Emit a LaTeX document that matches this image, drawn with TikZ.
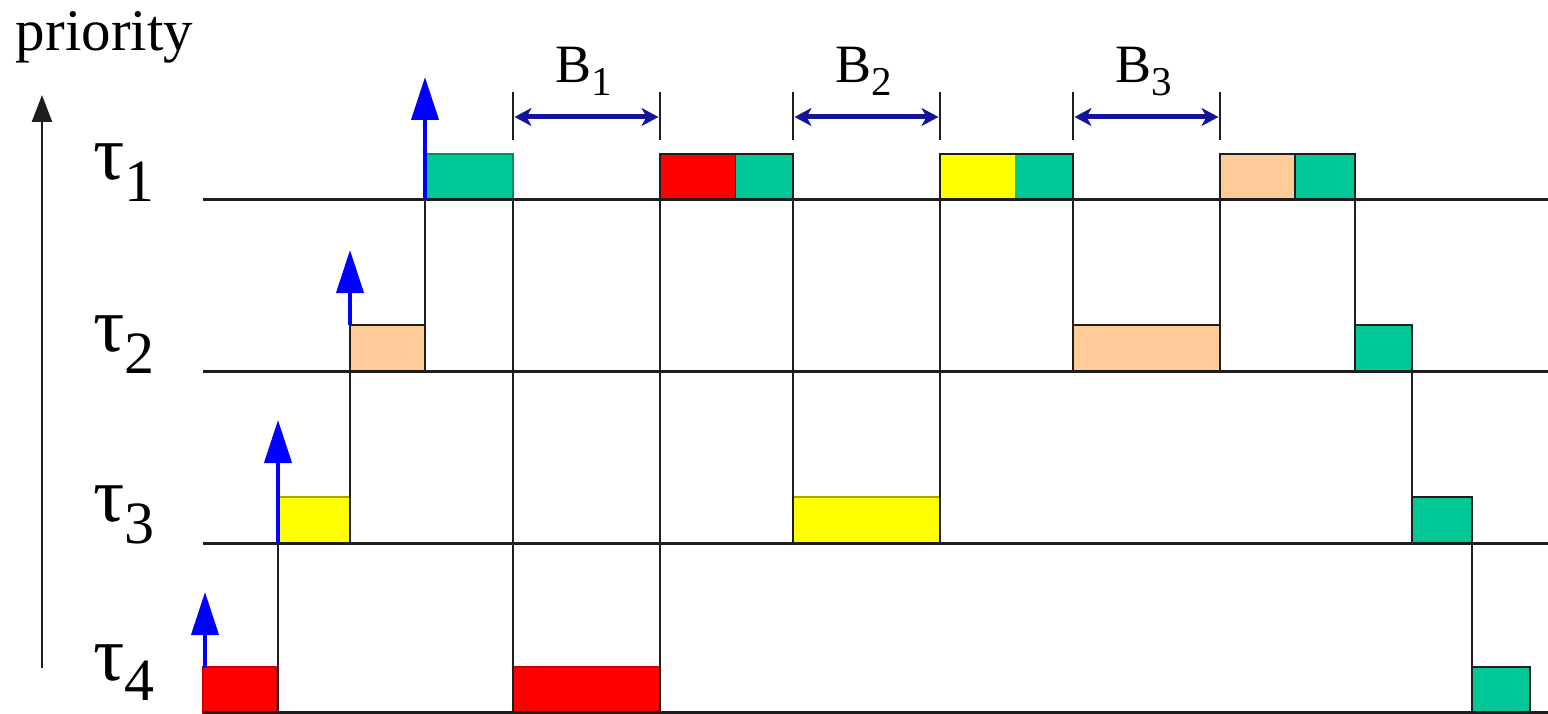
\documentclass[tikz,border=0pt]{standalone}
\usepackage{fontspec}
\setmainfont{Liberation Serif}
\usetikzlibrary{arrows.meta}

\definecolor{jobgreen}{RGB}{0,200,150}
\definecolor{jobpeach}{RGB}{255,204,153}
\definecolor{jobyellow}{RGB}{255,255,0}
\definecolor{jobred}{RGB}{255,0,0}
\definecolor{relblue}{RGB}{0,0,255}
\definecolor{blocknavy}{RGB}{20,20,150}
\definecolor{inkgray}{RGB}{30,30,30}

\newcommand{\tasklabel}[2][22pt]{\fontsize{78}{84}\selectfont τ\raisebox{-#1}[\height][0pt]{\fontsize{60}{62}\selectfont #2}}

\begin{document}
\begin{tikzpicture}[x=1pt,y=-1pt,
  axisline/.style={line width=3pt, inkgray},
  switchline/.style={line width=2.5pt, inkgray},
  job/.style={line width=2pt, draw=inkgray},
  softjob/.style={line width=1.5pt},
  release/.style={line width=4pt, relblue, -{Triangle[length=43pt,width=27pt]}},
  prioarrow/.style={line width=2.5pt, inkgray, -{Triangle[length=27pt,width=20pt]}},
  blocktick/.style={line width=2pt, inkgray},
  blockspan/.style={line width=5pt, blocknavy, {Stealth[length=17pt,width=18pt,inset=5pt]}-{Stealth[length=17pt,width=18pt,inset=5pt]}},
  lbl/.style={anchor=base west, inner sep=0pt, outer sep=0pt},
]
\useasboundingbox (0,0) rectangle (1548,714);

% priority axis
\node[lbl] (prio) at (16,51) {\fontsize{59}{61}\selectfont priority};
\draw[prioarrow] (42,668) -- (42,95);

% task labels
\node[lbl] (tau1) at (93,180) {\tasklabel{1}};
\node[lbl] (tau2) at (93,351) {\tasklabel{2}};
\node[lbl] (tau3) at (93,521) {\tasklabel{3}};
\node[lbl] (tau4) at (93,680) {\tasklabel[20pt]{4}};

% execution slots: tau1
\draw[softjob, fill=jobgreen, draw=jobgreen!70!black] (425,154) rectangle (513,200);
\fill[jobred] (660,154) rectangle (735,200);
\fill[jobgreen] (735,154) rectangle (793,200);
\draw[job] (660,200) |- (793,154) -- (793,200);
\draw[line width=1pt, jobred!60!black] (735,155) -- (735,200);
\fill[jobyellow] (940,154) rectangle (1015,200);
\fill[jobgreen] (1015,154) rectangle (1073,200);
\draw[job] (940,200) |- (1073,154) -- (1073,200);
\draw[line width=1pt, jobyellow!60!black] (1015,155) -- (1015,200);
\fill[jobpeach] (1220,154) rectangle (1295,200);
\fill[jobgreen] (1295,154) rectangle (1355,200);
\draw[job] (1220,200) |- (1355,154) -- (1355,200);
\draw[line width=1.5pt, inkgray] (1295,155) -- (1295,200);

% execution slots: tau2
\draw[job, fill=jobpeach] (350,325) rectangle (425,371);
\draw[job, fill=jobpeach] (1073,325) rectangle (1220,371);
\draw[job, fill=jobgreen] (1355,325) rectangle (1412,371);

% execution slots: tau3
\draw[softjob, fill=jobyellow, draw=jobyellow!65!black] (278,497) rectangle (350,543);
\draw[softjob, fill=jobyellow, draw=jobyellow!65!black] (793,497) rectangle (940,543);
\draw[job, fill=jobgreen] (1412,497) rectangle (1472,543);

% execution slots: tau4
\draw[softjob, fill=jobred, draw=jobred!80!black] (203,667) rectangle (277,713);
\draw[softjob, fill=jobred, draw=jobred!80!black] (513,667) rectangle (660,713);
\draw[job, fill=jobgreen] (1472,667) rectangle (1530,714);

% priority levels
\draw[axisline] (203,200) -- (1548,200);
\draw[axisline] (203,371) -- (1548,371);
\draw[axisline] (203,543) -- (1548,543);
\draw[axisline] (203,712.5) -- (1548,712.5);

% context switches
\draw[switchline] (278,543) -- (278,714);
\draw[switchline] (350,371) -- (350,543);
\draw[switchline] (425,200) -- (425,371);
\draw[switchline] (513,200) -- (513,714);
\draw[switchline] (660,200) -- (660,714);
\draw[switchline] (793,200) -- (793,543);
\draw[switchline] (940,200) -- (940,543);
\draw[switchline] (1073,200) -- (1073,371);
\draw[switchline] (1220,200) -- (1220,371);
\draw[switchline] (1355,200) -- (1355,371);
\draw[switchline] (1412,371) -- (1412,543);
\draw[switchline] (1472,543) -- (1472,714);

% job releases
\draw[release] (205,668) -- (205,592);
\draw[release] (278,543) -- (278,420);
\draw[release] (350,325) -- (350,250);
\draw[release] (425,200) -- (425,77);

% blocking intervals
\foreach \a/\b/\n in {513/660/1, 793/940/2, 1073/1220/3}{
  \draw[blocktick] (\a,92) -- (\a,140);
  \draw[blocktick] (\b,92) -- (\b,140);
  \draw[blockspan] (\a+1.5,117) -- (\b-1.5,117);
  \node[lbl] (B\n) at ({(\a+\b)/2-31},83) {\fontsize{54}{58}\selectfont B\raisebox{-13pt}{\fontsize{41}{43}\selectfont \n}};
}
\end{tikzpicture}
\end{document}
